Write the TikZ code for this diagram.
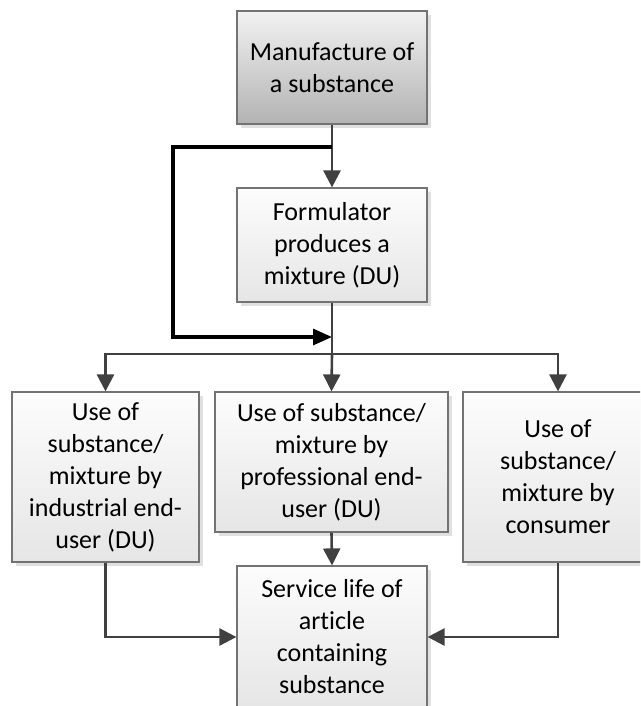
\documentclass[tikz,border=0pt]{standalone}
\usepackage{fontspec}
\setmainfont[Ligatures=NoCommon]{Carlito}
\usetikzlibrary{arrows.meta,shadows}

\begin{document}
\begin{tikzpicture}[x=1pt,y=-1pt]
  \tikzstyle{every node}+=[inner sep=0pt]
  \tikzstyle{box}=[draw=black!55, line width=1.2pt, align=center, font=\fontsize{26}{32}\selectfont, top color=black!1, bottom color=black!10, drop shadow={shadow xshift=4pt, shadow yshift=-4pt, fill=black!12, opacity=1}]
  \tikzstyle{darkbox}=[box, top color=black!5, bottom color=black!30]
  \tikzstyle{flow}=[draw=black!75, line width=2.6pt, -{Triangle[width=17pt,length=17pt]}]
  \tikzstyle{feedback}=[draw=black, line width=3.2pt, -{Triangle[width=16pt,length=19pt]}]
  \useasboundingbox (0,0) rectangle (640,706);
  \clip (0,0) rectangle (640,706);
  \node [darkbox, minimum width=190, minimum height=113] (manuf) at (332,67.5) {Manufacture of\\a substance};
  \node [box, minimum width=190, minimum height=114] (form) at (332,245) {Formulator\\produces a\\mixture (DU)};
  \node [box, minimum width=187, minimum height=170] (indus) at (105.5,477) {Use of\\substance/\\mixture by\\industrial end-\\user (DU)};
  \node [box, minimum width=233, minimum height=140] (prof) at (331.5,462) {Use of substance/\\mixture by\\professional end-\\user (DU)};
  \node [box, minimum width=190, minimum height=170] (cons) at (558,477) {Use of\\substance/\\mixture by\\consumer};
  \node [box, minimum width=190, minimum height=142] (serv) at (332,637) {Service life of\\article\\containing\\substance};
  \coordinate (split) at (332,147);
  \coordinate (lp) at (173,147);
  \coordinate (join) at (332,337);
  \coordinate (bus) at (332,354);
  \draw [flow] (manuf.south) -- (form.north);
  \draw [feedback] (split) -- (lp) |- (join);
  \draw [draw=black!75, line width=2.6pt] (form.south) -- (bus);
  \draw [flow] (bus) -| (indus.north);
  \draw [flow] (bus) -- (prof.north);
  \draw [flow] (bus) -| (cons.north);
  \draw [flow] (prof.south) -- (serv.north);
  \draw [flow] (indus.south) |- (serv.west);
  \draw [flow] (cons.south) |- (serv.east);
\end{tikzpicture}
\end{document}
